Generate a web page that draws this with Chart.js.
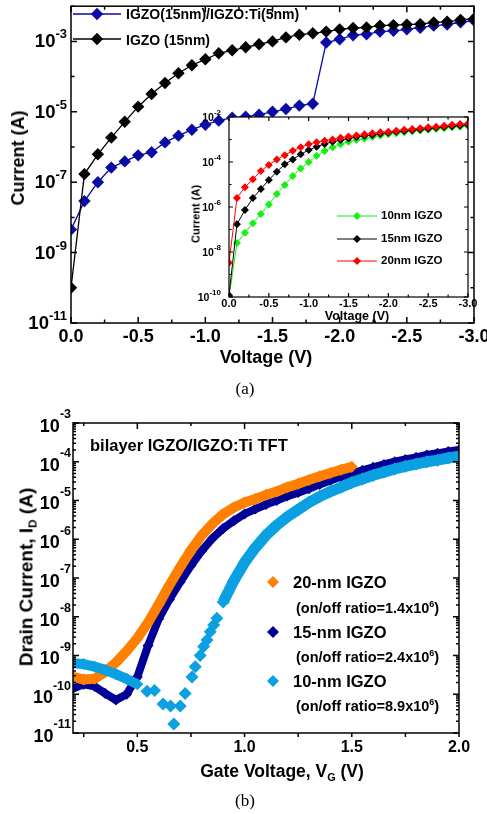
<!DOCTYPE html>
<html>
<head>
<meta charset="utf-8">
<script src="https://cdn.jsdelivr.net/npm/chart.js@4.4.1/dist/chart.umd.min.js"></script>
<style>
body { margin: 0; background: #fff; }
#wrap { position: relative; width: 487px; height: 814px; overflow: hidden; background: #fff;
        font-family: "Liberation Sans", Arial, sans-serif; font-weight: bold; color: #000; }
canvas { position: absolute; }
.t { position: absolute; white-space: nowrap; line-height: 1; }
.l { transform: translateY(-50%); }
.c { transform: translate(-50%, -50%); }
.v { transform: translate(-50%, -50%) rotate(-90deg); }
.cap { font-family: "Liberation Serif", "Times New Roman", serif; font-weight: normal; }
sup { font-size: 0.62em; vertical-align: 0.6em; line-height: 0; }
sub { font-size: 0.62em; vertical-align: -0.35em; line-height: 0; }
</style>
</head>
<body>
<div id="wrap">
  <canvas id="ca" width="487" height="400" style="left:0;top:0"></canvas>
  <canvas id="ci" width="295" height="212" style="left:183px;top:110px"></canvas>
  <canvas id="cb" width="487" height="414" style="left:0;top:400px"></canvas>

  <!-- panel (a) -->
  <div class="t l" style="left:126px;top:14px;font-size:14px">IGZO(15nm)/IGZO:Ti(5nm)</div>
  <div class="t l" style="left:126px;top:40px;font-size:14px">IGZO (15nm)</div>
  <div class="t v" style="left:18px;top:158px;font-size:18px">Current (A)</div>
  <div class="t c" style="left:266px;top:357px;font-size:18px">Voltage (V)</div>
  <div class="t v" style="left:196px;top:214px;font-size:11px">Current (A)</div>
  <div class="t c" style="left:357px;top:316px;font-size:12.5px">Voltage (V)</div>
  <div class="t l" style="left:381px;top:216px;font-size:11.5px">10nm IGZO</div>
  <div class="t l" style="left:381px;top:239px;font-size:11.5px">15nm IGZO</div>
  <div class="t l" style="left:381px;top:261px;font-size:11.5px">20nm IGZO</div>
  <div class="t c cap" style="left:245px;top:388px;font-size:17px">(a)</div>

  <!-- panel (b) -->
  <div class="t l" style="left:90px;top:445px;font-size:16.5px">bilayer IGZO/IGZO:Ti TFT</div>
  <div class="t l" style="left:293px;top:582px;font-size:16.5px">20-nm IGZO</div>
  <div class="t l" style="left:296px;top:608px;font-size:14.5px">(on/off ratio=1.4x10<sup>6</sup>)</div>
  <div class="t l" style="left:293px;top:632px;font-size:16.5px">15-nm IGZO</div>
  <div class="t l" style="left:296px;top:657px;font-size:14.5px">(on/off ratio=2.4x10<sup>6</sup>)</div>
  <div class="t l" style="left:293px;top:681px;font-size:16.5px">10-nm IGZO</div>
  <div class="t l" style="left:296px;top:706px;font-size:14.5px">(on/off ratio=8.9x10<sup>6</sup>)</div>
  <div class="t v" style="left:26px;top:577px;font-size:19px">Drain Current, I<sub>D</sub> (A)</div>
  <div class="t c" style="left:282px;top:772px;font-size:17.5px">Gate Voltage, V<sub>G</sub> (V)</div>
  <div class="t c cap" style="left:245px;top:800px;font-size:17px">(b)</div>
</div>

<script>
// ---- panel (a): I-V, voltage sweep 0 .. -3 V
const aV = [0, -0.1, -0.2, -0.3, -0.4, -0.5, -0.6, -0.7, -0.8, -0.9, -1.0, -1.1, -1.2, -1.3, -1.4, -1.5,
            -1.6, -1.7, -1.8, -1.9, -2.0, -2.1, -2.2, -2.3, -2.4, -2.5, -2.6, -2.7, -2.8, -2.9, -3.0];
const aBilayer = [4.5e-9, 2.9e-8, 1.0e-7, 2.6e-7, 3.9e-7, 5.8e-7, 7.1e-7, 1.35e-6, 2.1e-6, 3.1e-6, 4.3e-6,
                  5.6e-6, 6.8e-6, 7.2e-6, 8.3e-6, 1.0e-5, 1.2e-5, 1.5e-5, 1.7e-5, 9.3e-4, 1.15e-3, 1.5e-3,
                  1.6e-3, 1.9e-3, 2.0e-3, 2.2e-3, 2.45e-3, 2.8e-3, 3.0e-3, 3.5e-3, 3.9e-3];
const aIGZO15 = [1.0e-10, 1.7e-7, 6.2e-7, 1.85e-6, 5.2e-6, 1.4e-5, 3.2e-5, 6.6e-5, 1.25e-4, 2.1e-4, 3.1e-4,
                 4.6e-4, 5.6e-4, 6.8e-4, 8.3e-4, 1.0e-3, 1.3e-3, 1.55e-3, 1.7e-3, 1.9e-3, 2.2e-3, 2.4e-3,
                 2.5e-3, 2.8e-3, 2.9e-3, 3.0e-3, 3.1e-3, 3.45e-3, 3.6e-3, 4.1e-3, 4.4e-3];
const aXTicks = [-3, -2.5, -2, -1.5, -1, -0.5, 0];
const aYTickExp = [-11, -10, -9, -8, -7, -6, -5, -4, -3, -2];
const aYLabelExp = [-11, -9, -7, -5, -3];

// inset of (a): thickness series
const in10 = [1.0e-10, 2.5e-8, 7.2e-8, 1.9e-7, 4.9e-7, 1.3e-6, 3.8e-6, 9.5e-6, 2.4e-5, 5.2e-5, 1.0e-4,
              1.9e-4, 3.1e-4, 4.5e-4, 6.2e-4, 7.9e-4, 9.5e-4, 1.1e-3, 1.3e-3, 1.5e-3, 1.7e-3, 1.9e-3,
              2.1e-3, 2.3e-3, 2.5e-3, 2.75e-3, 2.95e-3, 3.2e-3, 3.5e-3, 3.7e-3, 4.0e-3];
const in15 = [1.2e-10, 1.7e-7, 7.4e-7, 2.5e-6, 6.3e-6, 1.6e-5, 3.7e-5, 7.9e-5, 1.3e-4, 2.2e-4, 3.4e-4,
              4.8e-4, 6.3e-4, 7.9e-4, 9.5e-4, 1.1e-3, 1.3e-3, 1.45e-3, 1.6e-3, 1.8e-3, 2.0e-3, 2.2e-3,
              2.4e-3, 2.6e-3, 2.8e-3, 3.0e-3, 3.3e-3, 3.6e-3, 3.9e-3, 4.2e-3, 4.4e-3];
const in20 = [3.3e-9, 2.5e-6, 7.6e-6, 1.7e-5, 4.0e-5, 7.4e-5, 1.3e-4, 2.0e-4, 3.2e-4, 4.5e-4, 6.2e-4,
              7.6e-4, 8.9e-4, 1.0e-3, 1.2e-3, 1.35e-3, 1.5e-3, 1.7e-3, 1.9e-3, 2.1e-3, 2.2e-3, 2.45e-3,
              2.7e-3, 2.95e-3, 3.2e-3, 3.5e-3, 3.7e-3, 4.1e-3, 4.5e-3, 4.9e-3, 5.2e-3];
const inYTickExp = [-10, -9, -8, -7, -6, -5, -4, -3, -2];
const inYLabelExp = [-10, -8, -6, -4, -2];

// ---- panel (b): transfer curves
const b20V = [0.2, 0.25, 0.3, 0.35, 0.4, 0.45, 0.5, 0.55, 0.6, 0.65, 0.7, 0.75, 0.8, 0.85, 0.9, 0.95,
              1.0, 1.05, 1.1, 1.15, 1.2, 1.25, 1.3, 1.35, 1.4, 1.45, 1.5];
const b20I = [2.8e-10, 2.4e-10, 2.5e-10, 3.8e-10, 6.6e-10, 1.3e-9, 2.8e-9, 7.1e-9, 2.1e-8, 6.6e-8, 1.9e-7,
              5.2e-7, 1.26e-6, 2.5e-6, 4.4e-6, 6.6e-6, 8.9e-6, 1.1e-5, 1.4e-5, 1.7e-5, 2.2e-5, 2.7e-5,
              3.4e-5, 4.2e-5, 5.1e-5, 6.2e-5, 7.4e-5];
const b15V = [0.2, 0.25, 0.3, 0.35, 0.4, 0.45, 0.5, 0.55, 0.6, 0.65, 0.7, 0.75, 0.8, 0.85, 0.9, 0.95,
              1.0, 1.05, 1.1, 1.15, 1.2, 1.25, 1.3, 1.35, 1.4, 1.45, 1.5, 1.55, 1.6, 1.65, 1.7, 1.75,
              1.8, 1.85, 1.9, 1.95, 2.0];
const b15I = [1.4e-10, 1.8e-10, 1.6e-10, 1.05e-10, 7.1e-11, 1.0e-10, 2.8e-10, 1.8e-9, 8.9e-9, 2.8e-8, 7.9e-8,
              2.1e-7, 5.0e-7, 1.05e-6, 1.9e-6, 3.0e-6, 4.5e-6, 6.0e-6, 7.9e-6, 1.0e-5, 1.3e-5, 1.6e-5,
              2.0e-5, 2.6e-5, 3.3e-5, 4.1e-5, 5.0e-5, 6.0e-5, 7.2e-5, 8.5e-5, 1.0e-4, 1.15e-4, 1.3e-4,
              1.5e-4, 1.65e-4, 1.85e-4, 2.0e-4];
const b10LowV = [0.2, 0.25, 0.3, 0.35, 0.4, 0.45, 0.5];
const b10LowI = [6.3e-10, 6.0e-10, 5.2e-10, 4.2e-10, 3.3e-10, 2.5e-10, 1.8e-10];
const b10MidV = [0.545, 0.58, 0.62, 0.655, 0.67, 0.70, 0.723, 0.755, 0.77, 0.793, 0.809, 0.825, 0.84, 0.856, 0.871];
const b10MidI = [1.2e-10, 1.25e-10, 5.6e-11, 5.0e-11, 1.7e-11, 5.0e-11, 1.05e-10, 2.8e-10, 5.1e-10, 1.0e-9,
                 1.7e-9, 2.5e-9, 4.1e-9, 6.1e-9, 9.1e-9];
const b10HighV = [0.9, 0.95, 1.0, 1.05, 1.1, 1.15, 1.2, 1.25, 1.3, 1.35, 1.4, 1.45, 1.5, 1.55, 1.6, 1.65,
                  1.7, 1.75, 1.8, 1.85, 1.9, 1.95, 2.0];
const b10HighI = [2.4e-8, 8.5e-8, 2.5e-7, 6.0e-7, 1.26e-6, 2.3e-6, 3.8e-6, 5.8e-6, 8.9e-6, 1.26e-5, 1.7e-5,
                  2.2e-5, 2.9e-5, 3.6e-5, 4.5e-5, 5.4e-5, 6.5e-5, 7.6e-5, 8.7e-5, 1.0e-4, 1.1e-4, 1.25e-4, 1.4e-4];
const bXTicks = [0.5, 1.0, 1.5, 2.0];
const bYTickExp = [-11, -10, -9, -8, -7, -6, -5, -4, -3];

const FONT = '"Liberation Sans", Arial, sans-serif';
const BLUE = '#0A0AA5', GREEN = '#14F014', RED = '#FF0000';
const ORANGE = '#FF8000', NAVY = '#000096', SKY = '#0AA0E1';

Chart.defaults.font.family = FONT;

function diamond(ctx, x, y, r) {
  ctx.beginPath();
  ctx.moveTo(x, y - r); ctx.lineTo(x + r, y); ctx.lineTo(x, y + r); ctx.lineTo(x - r, y);
  ctx.closePath(); ctx.fill();
}

// box, inward ticks, 10^n labels and legend symbols
const frame = {
  id: 'frame',
  beforeDatasetsDraw(chart, args, o) {
    if (!o.fill) return;
    const a = chart.chartArea, ctx = chart.ctx;
    ctx.save();
    ctx.fillStyle = o.fill;
    ctx.fillRect(a.left, a.top, a.right - a.left, a.bottom - a.top);
    ctx.restore();
  },
  afterDraw(chart, args, o) {
    const ctx = chart.ctx, a = chart.chartArea, xs = chart.scales.x, ys = chart.scales.y;
    ctx.save();
    ctx.strokeStyle = '#000';
    ctx.lineWidth = o.lw;
    ctx.beginPath();
    const xTick = (v, len) => {
      const px = xs.getPixelForValue(v);
      ctx.moveTo(px, a.bottom);
      ctx.lineTo(px, o.outLen ? a.bottom + o.outLen : a.bottom - len);
      ctx.moveTo(px, a.top); ctx.lineTo(px, a.top + len);
    };
    const xt = xs.ticks.map(t => t.value);
    const step = xt[1] - xt[0];
    xt.forEach(v => xTick(v, o.len));
    for (let v = xt[0] - step / 2; v <= xs.max + 1e-9; v += step) {
      if (v >= xs.min - 1e-9) xTick(v, o.minorLen);
    }
    const yTick = (v, len) => {
      const py = ys.getPixelForValue(v);
      ctx.moveTo(a.left, py); ctx.lineTo(a.left + len, py);
      ctx.moveTo(a.right, py); ctx.lineTo(a.right - len, py);
    };
    ys.ticks.forEach(t => {
      const e = Math.round(Math.log10(t.value));
      yTick(t.value, (o.logMinor || o.yLabels.includes(e)) ? o.len : o.minorLen);
      if (o.logMinor) {
        for (let m = 2; m < 10; m++) if (m * t.value < ys.max) yTick(m * t.value, o.minorLen);
      }
    });
    ctx.stroke();
    ctx.strokeRect(a.left, a.top, a.right - a.left, a.bottom - a.top);

    ctx.fillStyle = '#000';
    ctx.textBaseline = 'middle';
    ctx.textAlign = 'left';
    o.yLabels.forEach(e => {
      const py = ys.getPixelForValue(Math.pow(10, e));
      const s = String(e);
      ctx.font = 'bold ' + o.supSize + 'px ' + FONT;
      const w2 = ctx.measureText(s).width;
      ctx.font = 'bold ' + o.size + 'px ' + FONT;
      const w1 = ctx.measureText('10').width;
      const xr = a.left - o.gap;
      ctx.fillText('10', xr - w2 - w1, py + o.dy);
      ctx.font = 'bold ' + o.supSize + 'px ' + FONT;
      ctx.fillText(s, xr - w2, py + o.supDy);
    });

    (o.legend || []).forEach(it => {
      const ds = chart.data.datasets[it.ds];
      if (it.x1 !== undefined) {
        ctx.strokeStyle = ds.borderColor;
        ctx.lineWidth = ds.borderWidth;
        ctx.beginPath(); ctx.moveTo(it.x1, it.y); ctx.lineTo(it.x2, it.y); ctx.stroke();
      }
      ctx.fillStyle = ds.pointBackgroundColor;
      diamond(ctx, it.x, it.y, it.r || ds.pointRadius);
    });
    ctx.restore();
  }
};

function series(label, xv, yv, color, extra) {
  return Object.assign({
    label: label,
    data: xv.map((x, i) => ({ x: x, y: yv[i] })),
    borderColor: color, backgroundColor: color,
    pointBackgroundColor: color, pointBorderColor: color, pointBorderWidth: 0,
    pointStyle: 'rectRot', clip: 0, tension: 0
  }, extra);
}

function xAxis(min, max, ticks, size, pad, height, reverse) {
  return {
    type: 'linear', min: min, max: max, reverse: reverse,
    grid: { display: false, drawTicks: false }, border: { display: false },
    afterBuildTicks: s => { s.ticks = ticks.map(v => ({ value: v })); },
    afterFit: s => { s.height = height; s.paddingLeft = 0; s.paddingRight = 0; },
    ticks: { color: '#000', font: { size: size, weight: 'bold' }, padding: pad,
             maxRotation: 0, autoSkip: false, callback: v => v.toFixed(1) }
  };
}

function yAxis(min, max, exps, width) {
  return {
    type: 'logarithmic', min: min, max: max,
    grid: { display: false, drawTicks: false }, border: { display: false },
    afterBuildTicks: s => { s.ticks = exps.map(e => ({ value: Math.pow(10, e) })); },
    afterFit: s => { s.width = width; },
    ticks: { display: false }
  };
}

const quiet = { legend: { display: false }, tooltip: { enabled: false } };

// (a) main
const lineA = { borderWidth: 1.3, pointRadius: 6.2 };
new Chart(document.getElementById('ca'), {
  type: 'line',
  data: { datasets: [
    series('IGZO (15nm)', aV, aIGZO15, '#000', lineA),
    series('IGZO(15nm)/IGZO:Ti(5nm)', aV, aBilayer, BLUE, lineA)
  ] },
  options: {
    responsive: false, animation: false,
    layout: { padding: { top: 3, right: 13, left: 0, bottom: 0 } },
    plugins: Object.assign({}, quiet, { frame: {
      lw: 1.5, len: 6, minorLen: 3.5, yLabels: aYLabelExp, size: 18.5, supSize: 13,
      gap: 4, dy: 1, supDy: -6.5,
      legend: [{ ds: 1, x: 97, y: 14, x1: 73, x2: 121 }, { ds: 0, x: 97, y: 39, x1: 73, x2: 121 }]
    } }),
    scales: { x: xAxis(-3, 0, aXTicks, 18, 3, 77, true), y: yAxis(1e-11, 1e-2, aYTickExp, 71) }
  },
  plugins: [frame]
});

// (a) inset
const lineI = { borderWidth: 1, pointRadius: 4 };
new Chart(document.getElementById('ci'), {
  type: 'line',
  data: { datasets: [
    series('20nm IGZO', aV, in20, RED, lineI),
    series('15nm IGZO', aV, in15, '#000', lineI),
    series('10nm IGZO', aV, in10, GREEN, lineI)
  ] },
  options: {
    responsive: false, animation: false,
    layout: { padding: { top: 7, right: 10, left: 0, bottom: 0 } },
    plugins: Object.assign({}, quiet, { frame: {
      fill: '#fff', lw: 1.2, len: 4, minorLen: 2.5, yLabels: inYLabelExp, size: 10.5, supSize: 8,
      gap: 8, dy: 1, supDy: -4,
      legend: [{ ds: 2, x: 174, y: 106, x1: 154, x2: 194 }, { ds: 1, x: 174, y: 129, x1: 154, x2: 194 },
               { ds: 0, x: 174, y: 151, x1: 154, x2: 194 }]
    } }),
    scales: { x: xAxis(-3, 0, aXTicks, 11, 0, 25, true), y: yAxis(1e-10, 1e-2, inYTickExp, 46) }
  },
  plugins: [frame]
});

// (b)
const band = { borderWidth: 10, pointRadius: 6, borderJoinStyle: 'round' };
new Chart(document.getElementById('cb'), {
  type: 'line',
  data: { datasets: [
    series('10-nm IGZO', b10HighV, b10HighI, SKY, { borderWidth: 11, pointRadius: 6.5, borderJoinStyle: 'round' }),
    series('10-nm IGZO low', b10MidV, b10MidI, SKY, { showLine: false, pointRadius: 6.5 }),
    series('10-nm IGZO off', b10LowV, b10LowI, SKY, band),
    series('20-nm IGZO', b20V, b20I, ORANGE, band),
    series('15-nm IGZO', b15V, b15I, NAVY, { borderWidth: 8, pointRadius: 5.5, borderJoinStyle: 'round' })
  ] },
  options: {
    responsive: false, animation: false,
    layout: { padding: { top: 23, right: 28, left: 0, bottom: 0 } },
    plugins: Object.assign({}, quiet, { frame: {
      lw: 1.5, len: 6, minorLen: 3, outLen: 4, logMinor: true, yLabels: bYTickExp,
      size: 18, supSize: 12.5, gap: 2, dy: 4, supDy: -8,
      legend: [{ ds: 3, x: 273, y: 182, r: 6 }, { ds: 4, x: 273, y: 232, r: 6 }, { ds: 0, x: 273, y: 281, r: 6 }]
    } }),
    scales: { x: xAxis(0.2, 2.0, bXTicks, 16, 5, 81, false), y: yAxis(1e-11, 1e-3, bYTickExp, 73) }
  },
  plugins: [frame]
});
</script>
</body>
</html>
